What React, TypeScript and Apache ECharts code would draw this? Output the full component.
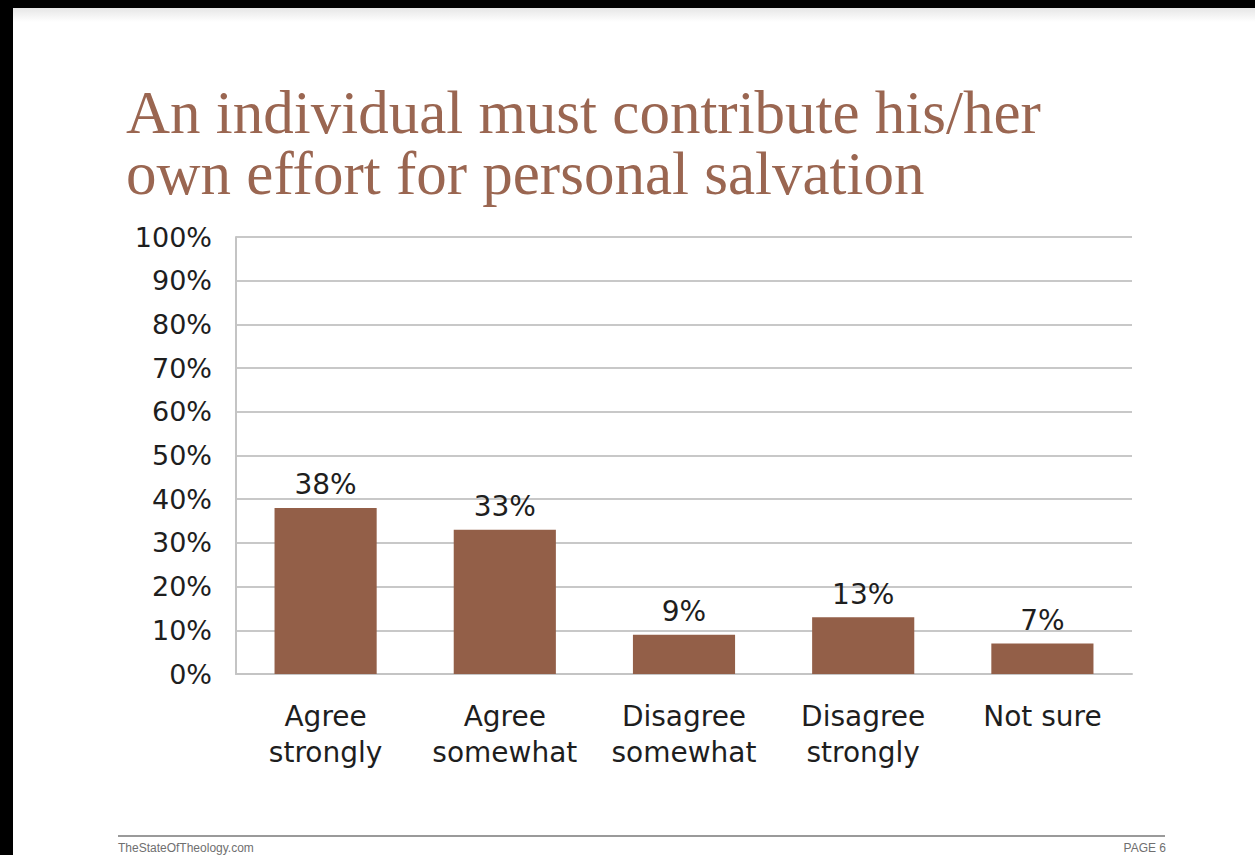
import React, { useEffect, useRef } from "react";
import * as echarts from "echarts";

const categories = ["Agree\nstrongly", "Agree\nsomewhat", "Disagree\nsomewhat", "Disagree\nstrongly", "Not sure"];
const values = [38, 33, 9, 13, 7];
const titleLines = ["An individual must contribute his/her", "own effort for personal salvation"];
const footerLeft = "TheStateOfTheology.com";
const footerRight = "PAGE 6";

const BAR = "#935f48";
const TITLE = "#9a6651";
const SANS = "'DejaVu Sans', 'Noto Sans', sans-serif";

export default function App() {
  const ref = useRef<HTMLDivElement>(null);
  useEffect(() => {
    document.body.style.margin = "0";
    const chart = echarts.init(ref.current!, undefined, { renderer: "svg" });
    chart.setOption({
      animation: false,
      backgroundColor: "#ffffff",
      grid: { left: 236, right: 1255 - 1132, top: 237, bottom: 855 - 674, containLabel: false },
      xAxis: {
        type: "category",
        data: categories,
        axisLine: { show: true, lineStyle: { color: "#c4c4c4", width: 2 } },
        axisTick: { show: false },
        axisLabel: {
          color: "#1e1e1e",
          fontFamily: SANS,
          fontSize: 28,
          lineHeight: 36,
          margin: 24,
          interval: 0,
        },
      },
      yAxis: {
        type: "value",
        min: 0,
        max: 100,
        interval: 10,
        axisLine: { show: true, lineStyle: { color: "#c4c4c4", width: 2 } },
        axisTick: { show: false },
        splitLine: { show: true, lineStyle: { color: "#c8c8c8", width: 2 } },
        axisLabel: {
          color: "#1e1e1e",
          fontFamily: SANS,
          fontSize: 27,
          margin: 24,
          formatter: (v: number) => v + "%",
        },
      },
      series: [
        {
          type: "bar",
          data: values,
          barWidth: "57%",
          itemStyle: { color: BAR },
          label: {
            show: true,
            position: "top",
            distance: 9,
            color: "#1e1e1e",
            fontFamily: SANS,
            fontSize: 28,
            formatter: (p: any) => p.value + "%",
          },
        },
      ],
      graphic: [
        { type: "rect", left: 0, top: 0, shape: { width: 1255, height: 8 }, style: { fill: "#000" }, z: 10 },
        { type: "rect", left: 0, top: 0, shape: { width: 13, height: 855 }, style: { fill: "#000" }, z: 10 },
        {
          type: "rect",
          left: 13,
          top: 8,
          shape: { width: 1242, height: 14 },
          style: {
            fill: new echarts.graphic.LinearGradient(0, 0, 0, 1, [
              { offset: 0, color: "#e6e6e6" },
              { offset: 1, color: "#ffffff" },
            ]),
          },
          z: 9,
        },
        {
          type: "text",
          left: 126,
          top: 82,
          style: {
            text: titleLines[0],
            fill: TITLE,
            font: "61px 'Liberation Serif', serif",
          },
        },
        {
          type: "text",
          left: 126,
          top: 143,
          style: {
            text: titleLines[1],
            fill: TITLE,
            font: "61px 'Liberation Serif', serif",
          },
        },
        {
          type: "line",
          shape: { x1: 118, y1: 836, x2: 1165, y2: 836 },
          style: { stroke: "#9a9a9a", lineWidth: 2 },
        },
        {
          type: "text",
          x: 118,
          y: 848,
          style: {
            text: footerLeft,
            fill: "#6f6f6f",
            font: "12px 'Liberation Sans', sans-serif",
            verticalAlign: "middle",
            align: "left",
          },
        },
        {
          type: "text",
          x: 1166,
          y: 848,
          style: {
            text: footerRight,
            fill: "#6f6f6f",
            font: "12px 'Liberation Sans', sans-serif",
            verticalAlign: "middle",
            align: "right",
          },
        },
      ],
    });
    return () => chart.dispose();
  }, []);
  return <div ref={ref} style={{ width: 1255, height: 855 }} />;
}
